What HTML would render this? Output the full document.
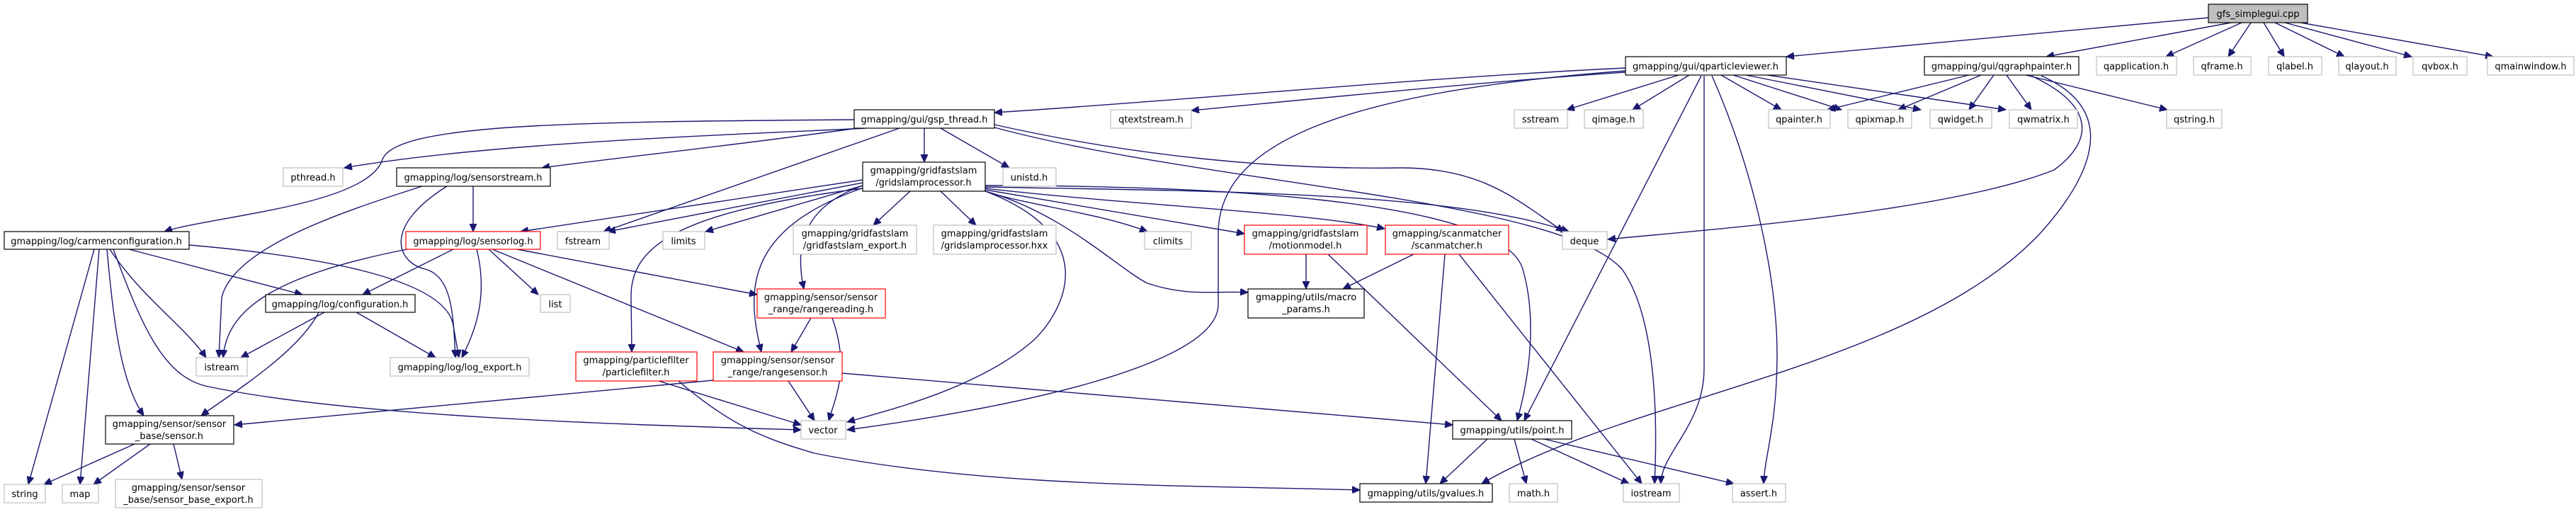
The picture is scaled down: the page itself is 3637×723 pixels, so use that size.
<!DOCTYPE html>
<html><head><meta charset="utf-8"><style>
html,body{margin:0;padding:0;background:#fff;width:3637px;height:723px;overflow:hidden}
svg text{font-family:"DejaVu Sans","Liberation Sans",sans-serif;font-size:13px;fill:#000;text-anchor:middle}
.e{fill:none;stroke:#191970;stroke-width:1.4}
.k{fill:#fff;stroke:#000;stroke-width:1.2}
.g{fill:#fff;stroke:#bfbfbf;stroke-width:1.2}
.r{fill:#fff;stroke:#ff0000;stroke-width:1.2}
</style></head><body>
<svg width="3637" height="723" xmlns="http://www.w3.org/2000/svg">
<defs><marker id="a" markerUnits="userSpaceOnUse" markerWidth="12" markerHeight="10" refX="11" refY="5" orient="auto"><path d="M0,0 L11,5 L0,10 z" fill="#191970" stroke="#191970"/></marker></defs>
<g marker-end="url(#a)">
<!-- gfs -->
<path class="e" d="M3118,25 L2522,80"/>
<path class="e" d="M3150,32 L2889,80"/>
<path class="e" d="M3165,32 L3058,80"/>
<path class="e" d="M3178,32 L3146,80"/>
<path class="e" d="M3196,32 L3225,80"/>
<path class="e" d="M3212,32 L3310,80"/>
<path class="e" d="M3226,32 L3405,80"/>
<path class="e" d="M3248,32 L3520,80"/>
<!-- qpv -->
<path class="e" d="M2295,96 C2000,110 1700,140 1404,159"/>
<path class="e" d="M2295,102 C2100,115 1850,140 1682,156"/>
<path class="e" d="M2370,106 L2212,155"/>
<path class="e" d="M2385,106 L2305,155"/>
<path class="e" d="M2430,106 L2515,155"/>
<path class="e" d="M2447,106 L2600,155"/>
<path class="e" d="M2465,106 L2712,155"/>
<path class="e" d="M2495,106 L2832,155"/>
<path class="e" d="M2295,100 C1900,130 1720,200 1720,330 L1720,430 C1720,520 1400,580 1196,607"/>
<path class="e" d="M2402,107 L2152,594"/>
<path class="e" d="M2406,107 L2406,520 C2406,600 2345,640 2345,683"/>
<path class="e" d="M2417,107 C2480,250 2509,400 2509,500 C2509,600 2492,640 2490,683"/>
<!-- qgp -->
<path class="e" d="M2780,106 L2580,155"/>
<path class="e" d="M2797,106 L2680,155"/>
<path class="e" d="M2815,106 L2780,155"/>
<path class="e" d="M2833,106 L2868,155"/>
<path class="e" d="M2860,106 L3060,155"/>
<path class="e" d="M2868,107 C2960,150 2955,200 2900,240 C2750,300 2400,325 2270,338"/>
<path class="e" d="M2882,107 C2980,150 2970,230 2880,330 C2700,520 2300,560 2092,683"/>
<!-- gsp -->
<path class="e" d="M1222,181 C1050,190 700,200 486,237"/>
<path class="e" d="M1206,169 C800,172 560,175 540,225 C520,290 300,305 232,327"/>
<path class="e" d="M1211,181 C1000,210 850,225 765,237"/>
<path class="e" d="M1270,181 L852,327"/>
<path class="e" d="M1305,181 L1305,229"/>
<path class="e" d="M1328,181 L1425,237"/>
<path class="e" d="M1404,176 C1600,220 1800,240 1978,237 C2100,237 2150,290 2208,327"/>
<path class="e" d="M1404,180 C1700,260 2200,280 2290,380 C2340,450 2340,600 2336,683"/>
<!-- gridslamprocessor -->
<path class="e" d="M1285,270 L1233,318"/>
<path class="e" d="M1328,270 L1378,318"/>
<path class="e" d="M1391,270 C1450,290 1550,300 1620,327"/>
<path class="e" d="M1391,268 L1757,330"/>
<path class="e" d="M1391,266 C1600,290 1850,300 1955,323"/>
<path class="e" d="M1391,264 C1700,270 2050,270 2215,327"/>
<path class="e" d="M1391,262 C1700,262 2120,280 2150,380 C2170,450 2160,530 2142,594"/>
<path class="e" d="M1391,270 C1550,330 1510,430 1460,480 C1380,550 1250,580 1196,596"/>
<path class="e" d="M1391,270 C1500,300 1580,380 1620,400 C1680,420 1720,410 1762,413"/>
<path class="e" d="M1218,254 L735,327"/>
<path class="e" d="M1218,258 L858,327"/>
<path class="e" d="M1218,262 L996,327"/>
<path class="e" d="M1218,262 C1140,290 1120,340 1135,408"/>
<path class="e" d="M1222,264 C1060,320 1050,400 1075,497"/>
<path class="e" d="M1218,266 C950,300 890,350 891,420 L892,497"/>
<!-- sensorstream -->
<path class="e" d="M668,263 L668,327"/>
<path class="e" d="M596,263 C480,300 330,350 313,420 L309,505"/>
<path class="e" d="M631,263 C540,320 560,370 600,380 C640,390 640,450 643,505"/>
<!-- carmen -->
<path class="e" d="M182,352 L427,416"/>
<path class="e" d="M267,346 C430,360 630,390 640,460 L648,505"/>
<path class="e" d="M155,352 C200,420 260,460 291,505"/>
<path class="e" d="M133,352 L40,684"/>
<path class="e" d="M140,352 L113,684"/>
<path class="e" d="M151,352 C160,450 170,540 203,587"/>
<path class="e" d="M160,352 C200,460 230,530 290,545 C500,590 900,600 1131,607"/>
<!-- sensorlog -->
<path class="e" d="M640,352 L512,416"/>
<path class="e" d="M575,352 C380,390 320,440 315,505"/>
<path class="e" d="M690,352 L760,416"/>
<path class="e" d="M673,352 C690,420 670,470 652,505"/>
<path class="e" d="M695,352 L1050,497"/>
<path class="e" d="M730,352 L1069,416"/>
<!-- configuration -->
<path class="e" d="M458,441 L340,505"/>
<path class="e" d="M450,441 C420,500 320,560 284,587"/>
<path class="e" d="M503,441 L615,505"/>
<!-- rangereading -->
<path class="e" d="M1145,449 L1117,497"/>
<path class="e" d="M1175,449 C1200,520 1180,560 1170,594"/>
<!-- rangesensor -->
<path class="e" d="M1007,537 L331,600"/>
<path class="e" d="M1113,538 L1150,594"/>
<path class="e" d="M1189,527 L2051,600"/>
<!-- particlefilter -->
<path class="e" d="M930,538 L1131,600"/>
<path class="e" d="M958,538 C1030,600 1080,620 1150,640 C1400,690 1700,685 1920,692"/>
<!-- sensor -->
<path class="e" d="M190,627 L62,684"/>
<path class="e" d="M212,627 L132,684"/>
<path class="e" d="M245,627 L257,677"/>
<!-- motionmodel / scanmatcher -->
<path class="e" d="M1844,359 L1844,408"/>
<path class="e" d="M1875,359 L2120,594"/>
<path class="e" d="M1996,359 L1896,408"/>
<path class="e" d="M2040,359 L2013,683"/>
<path class="e" d="M2060,359 L2318,683"/>
<!-- point -->
<path class="e" d="M2100,620 L2033,683"/>
<path class="e" d="M2138,620 L2155,683"/>
<path class="e" d="M2162,620 L2300,683"/>
<path class="e" d="M2180,620 L2448,683"/>
</g>
<!-- nodes -->
<rect x="3118" y="6" width="140" height="26" fill="#bfbfbf" stroke="#000" stroke-width="1.2"/><text x="3188" y="24">gfs_simplegui.cpp</text>
<rect class="k" x="2295" y="80" width="227" height="26"/><text x="2408" y="98">gmapping/gui/qparticleviewer.h</text>
<rect class="k" x="2717" y="80" width="218" height="26"/><text x="2826" y="98">gmapping/gui/qgraphpainter.h</text>
<rect class="g" x="2960" y="80" width="113" height="26"/><text x="3016" y="98">qapplication.h</text>
<rect class="g" x="3097" y="80" width="81" height="26"/><text x="3137" y="98">qframe.h</text>
<rect class="g" x="3203" y="80" width="75" height="26"/><text x="3240" y="98">qlabel.h</text>
<rect class="g" x="3302" y="80" width="81" height="26"/><text x="3342" y="98">qlayout.h</text>
<rect class="g" x="3407" y="80" width="76" height="26"/><text x="3445" y="98">qvbox.h</text>
<rect class="g" x="3512" y="80" width="122" height="26"/><text x="3573" y="98">qmainwindow.h</text>
<rect class="k" x="1206" y="155" width="198" height="26"/><text x="1305" y="173">gmapping/gui/gsp_thread.h</text>
<rect class="g" x="1568" y="155" width="114" height="26"/><text x="1625" y="173">qtextstream.h</text>
<rect class="g" x="2138" y="155" width="75" height="26"/><text x="2175" y="173">sstream</text>
<rect class="g" x="2237" y="155" width="83" height="26"/><text x="2278" y="173">qimage.h</text>
<rect class="g" x="2497" y="155" width="87" height="26"/><text x="2540" y="173">qpainter.h</text>
<rect class="g" x="2609" y="155" width="90" height="26"/><text x="2654" y="173">qpixmap.h</text>
<rect class="g" x="2725" y="155" width="87" height="26"/><text x="2768" y="173">qwidget.h</text>
<rect class="g" x="2837" y="155" width="96" height="26"/><text x="2885" y="173">qwmatrix.h</text>
<rect class="g" x="3059" y="155" width="78" height="26"/><text x="3098" y="173">qstring.h</text>
<rect class="g" x="400" y="237" width="84" height="26"/><text x="442" y="255">pthread.h</text>
<rect class="k" x="560" y="237" width="217" height="26"/><text x="668" y="255">gmapping/log/sensorstream.h</text>
<rect class="k" x="1218" y="229" width="173" height="41"/><text x="1304" y="245">gmapping/gridfastslam</text><text x="1304" y="262">/gridslamprocessor.h</text>
<rect class="g" x="1416" y="237" width="75" height="26"/><text x="1453" y="255">unistd.h</text>
<rect class="k" x="6" y="327" width="261" height="25"/><text x="136" y="345">gmapping/log/carmenconfiguration.h</text>
<rect class="r" x="573" y="327" width="190" height="25"/><text x="668" y="345">gmapping/log/sensorlog.h</text>
<rect class="g" x="787" y="327" width="73" height="25"/><text x="823" y="345">fstream</text>
<rect class="g" x="936" y="327" width="59" height="25"/><text x="965" y="345">limits</text>
<rect class="g" x="1120" y="318" width="174" height="41"/><text x="1207" y="334">gmapping/gridfastslam</text><text x="1207" y="351">/gridfastslam_export.h</text>
<rect class="g" x="1318" y="318" width="173" height="41"/><text x="1404" y="334">gmapping/gridfastslam</text><text x="1404" y="351">/gridslamprocessor.hxx</text>
<rect class="g" x="1616" y="327" width="66" height="25"/><text x="1649" y="345">climits</text>
<rect class="r" x="1757" y="318" width="173" height="41"/><text x="1843" y="334">gmapping/gridfastslam</text><text x="1843" y="351">/motionmodel.h</text>
<rect class="r" x="1956" y="318" width="174" height="41"/><text x="2043" y="334">gmapping/scanmatcher</text><text x="2043" y="351">/scanmatcher.h</text>
<rect class="g" x="2206" y="327" width="63" height="25"/><text x="2237" y="345">deque</text>
<rect class="k" x="375" y="416" width="211" height="25"/><text x="480" y="434">gmapping/log/configuration.h</text>
<rect class="g" x="763" y="416" width="42" height="25"/><text x="784" y="434">list</text>
<rect class="r" x="1069" y="408" width="181" height="41"/><text x="1159" y="424">gmapping/sensor/sensor</text><text x="1159" y="441">_range/rangereading.h</text>
<rect class="k" x="1762" y="408" width="164" height="41"/><text x="1844" y="424">gmapping/utils/macro</text><text x="1844" y="441">_params.h</text>
<rect class="g" x="277" y="505" width="72" height="26"/><text x="313" y="523">istream</text>
<rect class="g" x="551" y="505" width="196" height="26"/><text x="649" y="523">gmapping/log/log_export.h</text>
<rect class="r" x="813" y="497" width="171" height="41"/><text x="898" y="513">gmapping/particlefilter</text><text x="898" y="530">/particlefilter.h</text>
<rect class="r" x="1007" y="497" width="182" height="41"/><text x="1098" y="513">gmapping/sensor/sensor</text><text x="1098" y="530">_range/rangesensor.h</text>
<rect class="k" x="149" y="587" width="181" height="40"/><text x="239" y="603">gmapping/sensor/sensor</text><text x="239" y="620">_base/sensor.h</text>
<rect class="g" x="1131" y="594" width="63" height="26"/><text x="1162" y="612">vector</text>
<rect class="k" x="2051" y="594" width="168" height="26"/><text x="2135" y="612">gmapping/utils/point.h</text>
<rect class="g" x="6" y="684" width="58" height="26"/><text x="35" y="702">string</text>
<rect class="g" x="88" y="684" width="51" height="26"/><text x="113" y="702">map</text>
<rect class="g" x="163" y="677" width="207" height="40"/><text x="266" y="693">gmapping/sensor/sensor</text><text x="266" y="710">_base/sensor_base_export.h</text>
<rect class="k" x="1920" y="683" width="187" height="26"/><text x="2013" y="701">gmapping/utils/gvalues.h</text>
<rect class="g" x="2131" y="683" width="68" height="26"/><text x="2165" y="701">math.h</text>
<rect class="g" x="2292" y="683" width="79" height="26"/><text x="2331" y="701">iostream</text>
<rect class="g" x="2446" y="683" width="75" height="26"/><text x="2483" y="701">assert.h</text>
</svg>
</body></html>
